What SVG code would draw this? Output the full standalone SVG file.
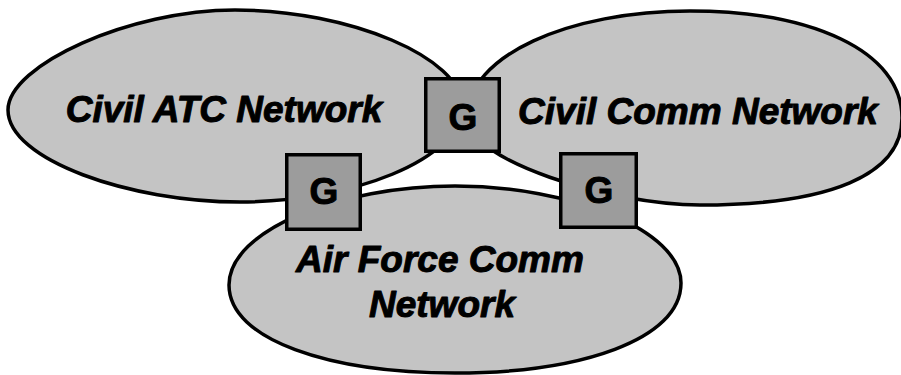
<svg xmlns="http://www.w3.org/2000/svg" width="901" height="375" viewBox="0 0 901 375">
<style>
.net{fill:#c4c4c4;stroke:#000;stroke-width:3.5;stroke-linejoin:round}
.gw{fill:#9c9c9c;stroke:#000;stroke-width:3.5}
.lbl{font-family:"Liberation Sans",Arial,Helvetica,sans-serif;font-weight:bold;font-style:italic;font-size:37px;fill:#000;stroke:#000;stroke-width:1;stroke-linejoin:round;text-anchor:middle}
.g{font-family:"Liberation Sans",Arial,Helvetica,sans-serif;font-weight:bold;font-size:37px;fill:#000;stroke:#000;stroke-width:1;stroke-linejoin:round;text-anchor:middle}
</style>
<rect width="901" height="375" fill="#fff"/>
<g id="civil-atc">
<path class="net" d="M8,110 C8,65 130,10 235,10 C350,10 462,58 462,106 C462,160 350,202 240,202 C130,202 8,160 8,110 Z"/>
<text class="lbl" x="224" y="122">Civil ATC Network</text>
</g>
<g id="civil-comm">
<path class="net" d="M467,118 C467,55 570,11 690,11 C810,11 902,50 902,118 C902,175 830,205 700,205 C610,205 467,160 467,118 Z"/>
<text class="lbl" x="698" y="124">Civil Comm Network</text>
</g>
<g id="air-force">
<path class="net" d="M229,285 C229,230 340,186 455,186 C570,186 681,230 681,283 C681,340 580,373 455,373 C330,373 229,340 229,285 Z"/>
<text class="lbl" x="440" y="272">Air Force Comm</text>
<text class="lbl" x="442" y="317">Network</text>
</g>
<g id="gateway-top">
<rect class="gw" x="425.75" y="78.75" width="73.5" height="72.5"/>
<text class="g" x="463" y="130">G</text>
</g>
<g id="gateway-left">
<rect class="gw" x="286.75" y="154.75" width="73.5" height="74.5"/>
<text class="g" x="324" y="204">G</text>
</g>
<g id="gateway-right">
<rect class="gw" x="560.75" y="153.75" width="75.5" height="73.5"/>
<text class="g" x="599" y="203">G</text>
</g>
</svg>
